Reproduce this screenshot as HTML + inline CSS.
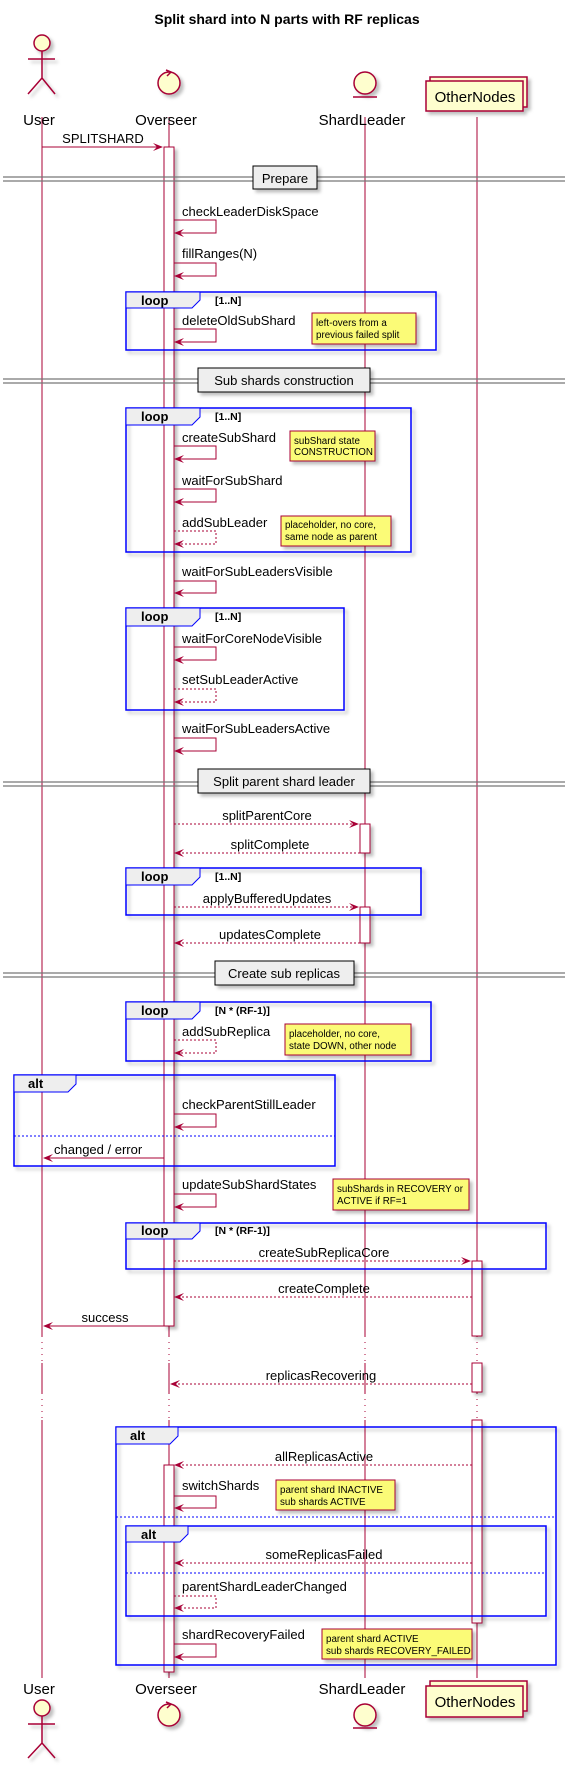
<!DOCTYPE html>
<html><head><meta charset="utf-8"><style>
html,body{margin:0;padding:0;background:#fff;}
svg{display:block;}
text{font-family:"Liberation Sans",sans-serif;}
.m{font-size:13px;fill:#000;}
.n{font-size:9.8px;fill:#000;}
.p{font-size:15px;fill:#000;}
.b{font-size:13px;font-weight:bold;}
.g{font-size:10.5px;font-weight:bold;}
</style></head><body>
<svg width="574" height="1769" viewBox="0 0 574 1769" xmlns="http://www.w3.org/2000/svg">
<defs>
<filter id="sh" x="-10%" y="-10%" width="130%" height="130%"><feDropShadow dx="3" dy="3" stdDeviation="1.5" flood-color="#000" flood-opacity="0.25"/></filter>
</defs>
<text x="287" y="24" text-anchor="middle" style="font-size:14px;font-weight:bold">Split shard into N parts with RF replicas</text>

<g stroke="#A80036" stroke-width="1" fill="none">
<path d="M42 117V1336M42 1363V1393M42 1420V1678M169 117V1336M169 1363V1393M169 1420V1678M365 117V1336M365 1363V1393M365 1420V1678M477 117V1336M477 1363V1393M477 1420V1678"/>
<path stroke-dasharray="1,5" d="M42 1336V1363M42 1393V1420M169 1336V1363M169 1393V1420M365 1336V1363M365 1393V1420M477 1336V1363M477 1393V1420"/>
</g>

<g stroke="#A80036" stroke-width="1.5" fill="#FEFECE" filter="url(#sh)">
<circle cx="42" cy="43" r="8"/>
<path d="M42 51V78M28 59H55M42 78L28 94M42 78L55 94" fill="none"/>
<circle cx="169" cy="83" r="11"/>
<circle cx="365" cy="83" r="11"/>
<rect x="430" y="77" width="97" height="30"/>
<rect x="426" y="81" width="97" height="30"/>
</g>
<path d="M166 70L171 72L167 76" stroke="#A80036" stroke-width="1.5" fill="none"/>
<path d="M353 97H377" stroke="#A80036" stroke-width="1.5"/>
<text class="p" x="39" y="125" text-anchor="middle">User</text>
<text class="p" x="166" y="125" text-anchor="middle">Overseer</text>
<text class="p" x="362" y="125" text-anchor="middle">ShardLeader</text>
<text class="p" x="475" y="102" text-anchor="middle">OtherNodes</text>

<g stroke="#A80036" stroke-width="1.5" fill="#FEFECE" filter="url(#sh)">
<circle cx="42" cy="1708" r="8"/>
<path d="M42 1716V1743M28 1724H55M42 1743L28 1758M42 1743L55 1758" fill="none"/>
<circle cx="169" cy="1715" r="11"/>
<circle cx="365" cy="1715" r="11"/>
<rect x="430" y="1681" width="97" height="30"/>
<rect x="426" y="1686" width="97" height="31"/>
</g>
<path d="M166 1702L171 1704L167 1708" stroke="#A80036" stroke-width="1.5" fill="none"/>
<path d="M353 1728H377" stroke="#A80036" stroke-width="1.5"/>
<text class="p" x="39" y="1694" text-anchor="middle">User</text>
<text class="p" x="166" y="1694" text-anchor="middle">Overseer</text>
<text class="p" x="362" y="1694" text-anchor="middle">ShardLeader</text>
<text class="p" x="475" y="1707" text-anchor="middle">OtherNodes</text>

<g stroke="#A80036" stroke-width="1" fill="#fff" filter="url(#sh)">
<rect x="164" y="147" width="10" height="1179"/>
<rect x="360" y="824" width="10" height="29"/>
<rect x="360" y="907" width="10" height="36"/>
<rect x="472" y="1261" width="10" height="75"/>
<rect x="472" y="1363" width="10" height="29"/>
<rect x="472" y="1420" width="10" height="203"/>
<rect x="164" y="1465" width="10" height="207"/>
</g>

<g>
<path d="M3 177H565M3 181H565M3 379H565M3 383H565M3 782H565M3 786H565M3 973H565M3 977H565" stroke="#777" stroke-width="1.2"/>
<g fill="#EEEEEE" stroke="#000" stroke-width="1" filter="url(#sh)">
<rect x="253" y="166" width="64" height="23"/>
<rect x="198" y="368" width="172" height="24"/>
<rect x="198" y="769" width="172" height="24"/>
<rect x="215" y="961" width="139" height="24"/>
</g>
<text class="m" x="285" y="183" text-anchor="middle">Prepare</text>
<text class="m" x="284" y="385" text-anchor="middle">Sub shards construction</text>
<text class="m" x="284" y="786" text-anchor="middle">Split parent shard leader</text>
<text class="m" x="284" y="978" text-anchor="middle">Create sub replicas</text>
</g>

<g fill="none" stroke="#0000FF" stroke-width="1.5">
<rect x="126" y="292" width="310" height="58" filter="url(#sh)"/>
<rect x="126" y="408" width="285" height="144" filter="url(#sh)"/>
<rect x="126" y="608" width="218" height="102" filter="url(#sh)"/>
<rect x="126" y="868" width="295" height="47" filter="url(#sh)"/>
<rect x="126" y="1002" width="305" height="59" filter="url(#sh)"/>
<rect x="14" y="1075" width="321" height="91" filter="url(#sh)"/>
<rect x="126" y="1223" width="420" height="46" filter="url(#sh)"/>
<rect x="116" y="1427" width="440" height="238" filter="url(#sh)"/>
<rect x="126" y="1526" width="420" height="90" filter="url(#sh)"/>
</g>
<g fill="#EEEEEE" stroke="#0000FF" stroke-width="1">
<path d="M126 292H200V300L192 308H126Z"/>
<path d="M126 408H200V417L192 425H126Z"/>
<path d="M126 608H200V618L192 626H126Z"/>
<path d="M126 868H200V877L192 885H126Z"/>
<path d="M126 1002H200V1011L192 1019H126Z"/>
<path d="M14 1075H76V1084L68 1092H14Z"/>
<path d="M126 1223H200V1231L192 1239H126Z"/>
<path d="M116 1427H178V1436L170 1444H116Z"/>
<path d="M126 1526H188V1534L180 1542H126Z"/>
</g>
<g fill="none" stroke="#0000FF" stroke-width="1" stroke-dasharray="2,2">
<path d="M14 1136H335M116 1517H556M126 1573H546"/>
</g>
<g class="b">
<text class="b" x="141" y="305">loop</text><text class="g" x="215" y="304">[1..N]</text>
<text class="b" x="141" y="421">loop</text><text class="g" x="215" y="420">[1..N]</text>
<text class="b" x="141" y="621">loop</text><text class="g" x="215" y="620">[1..N]</text>
<text class="b" x="141" y="881">loop</text><text class="g" x="215" y="880">[1..N]</text>
<text class="b" x="141" y="1015">loop</text><text class="g" x="215" y="1014">[N * (RF-1)]</text>
<text class="b" x="28" y="1088">alt</text>
<text class="b" x="141" y="1235">loop</text><text class="g" x="215" y="1234">[N * (RF-1)]</text>
<text class="b" x="130" y="1440">alt</text>
<text class="b" x="141" y="1539">alt</text>
</g>

<g fill="#FBFB77" stroke="#A80036" stroke-width="1" filter="url(#sh)">
<rect x="312" y="313" width="104" height="31"/>
<rect x="290" y="431" width="85" height="30"/>
<rect x="281" y="516" width="110" height="30"/>
<rect x="285" y="1024" width="126" height="31"/>
<rect x="333" y="1179" width="136" height="31"/>
<rect x="276" y="1480" width="119" height="30"/>
<rect x="322" y="1629" width="150" height="30"/>
</g>
<g class="n">
<text class="n" x="316" y="326">left-overs from a</text><text class="n" x="316" y="338">previous failed split</text>
<text class="n" x="294" y="444">subShard state</text><text class="n" x="294" y="455">CONSTRUCTION</text>
<text class="n" x="285" y="528">placeholder, no core,</text><text class="n" x="285" y="540">same node as parent</text>
<text class="n" x="289" y="1037">placeholder, no core,</text><text class="n" x="289" y="1049">state DOWN, other node</text>
<text class="n" x="337" y="1192">subShards in RECOVERY or</text><text class="n" x="337" y="1204">ACTIVE if RF=1</text>
<text class="n" x="280" y="1493">parent shard INACTIVE</text><text class="n" x="280" y="1505">sub shards ACTIVE</text>
<text class="n" x="326" y="1642">parent shard ACTIVE</text><text class="n" x="326" y="1654">sub shards RECOVERY_FAILED</text>
</g>

<g stroke="#A80036" stroke-width="1" fill="none">
<path d="M42 147H162"/>
<path d="M174 220H216V233H176"/>
<path d="M174 263H216V276H176"/>
<path d="M174 329H216V342H176"/>
<path d="M174 446H216V459H176"/>
<path d="M174 489H216V502H176"/>
<path d="M174 581H216V593H176"/>
<path d="M174 647H216V660H176"/>
<path d="M174 738H216V751H176"/>
<path d="M174 1114H216V1127H176"/>
<path d="M164 1158H44"/>
<path d="M174 1194H216V1207H176"/>
<path d="M164 1326H44"/>
<path d="M174 1496H216V1508H176"/>
<path d="M174 1644H216V1657H176"/>
</g>
<g stroke="#A80036" stroke-width="1" fill="none" stroke-dasharray="2,2">
<path d="M174 531H216V544H176"/>
<path d="M174 689H216V702H176"/>
<path d="M174 824H358"/>
<path d="M360 853H176"/>
<path d="M174 907H358"/>
<path d="M360 943H176"/>
<path d="M174 1040H216V1053H176"/>
<path d="M174 1261H470"/>
<path d="M472 1297H176"/>
<path d="M472 1384H171"/>
<path d="M472 1465H176"/>
<path d="M472 1563H176"/>
<path d="M174 1596H216V1608H176"/>
</g>
<g fill="#A80036">
<polygon points="163,147 153,143 157,147 153,151"/>
<polygon points="174,233 184,229 180,233 184,237"/>
<polygon points="174,276 184,272 180,276 184,280"/>
<polygon points="174,342 184,338 180,342 184,346"/>
<polygon points="174,459 184,455 180,459 184,463"/>
<polygon points="174,502 184,498 180,502 184,506"/>
<polygon points="174,544 184,540 180,544 184,548"/>
<polygon points="174,593 184,589 180,593 184,597"/>
<polygon points="174,660 184,656 180,660 184,664"/>
<polygon points="174,702 184,698 180,702 184,706"/>
<polygon points="174,751 184,747 180,751 184,755"/>
<polygon points="359,824 349,820 353,824 349,828"/>
<polygon points="174,853 184,849 180,853 184,857"/>
<polygon points="359,907 349,903 353,907 349,911"/>
<polygon points="174,943 184,939 180,943 184,947"/>
<polygon points="174,1053 184,1049 180,1053 184,1057"/>
<polygon points="174,1127 184,1123 180,1127 184,1131"/>
<polygon points="43,1158 53,1154 49,1158 53,1162"/>
<polygon points="174,1207 184,1203 180,1207 184,1211"/>
<polygon points="471,1261 461,1257 465,1261 461,1265"/>
<polygon points="174,1297 184,1293 180,1297 184,1301"/>
<polygon points="43,1326 53,1322 49,1326 53,1330"/>
<polygon points="170,1384 180,1380 176,1384 180,1388"/>
<polygon points="174,1465 184,1461 180,1465 184,1469"/>
<polygon points="174,1508 184,1504 180,1508 184,1512"/>
<polygon points="174,1563 184,1559 180,1563 184,1567"/>
<polygon points="174,1608 184,1604 180,1608 184,1612"/>
<polygon points="174,1657 184,1653 180,1657 184,1661"/>
</g>
<g class="m">
<text class="m" x="103" y="143" text-anchor="middle">SPLITSHARD</text>
<text class="m" x="182" y="216">checkLeaderDiskSpace</text>
<text class="m" x="182" y="258">fillRanges(N)</text>
<text class="m" x="182" y="325">deleteOldSubShard</text>
<text class="m" x="182" y="442">createSubShard</text>
<text class="m" x="182" y="485">waitForSubShard</text>
<text class="m" x="182" y="527">addSubLeader</text>
<text class="m" x="182" y="576">waitForSubLeadersVisible</text>
<text class="m" x="182" y="643">waitForCoreNodeVisible</text>
<text class="m" x="182" y="684">setSubLeaderActive</text>
<text class="m" x="182" y="733">waitForSubLeadersActive</text>
<text class="m" x="267" y="820" text-anchor="middle">splitParentCore</text>
<text class="m" x="270" y="849" text-anchor="middle">splitComplete</text>
<text class="m" x="267" y="903" text-anchor="middle">applyBufferedUpdates</text>
<text class="m" x="270" y="939" text-anchor="middle">updatesComplete</text>
<text class="m" x="182" y="1036">addSubReplica</text>
<text class="m" x="182" y="1109">checkParentStillLeader</text>
<text class="m" x="54" y="1154">changed / error</text>
<text class="m" x="182" y="1189">updateSubShardStates</text>
<text class="m" x="324" y="1257" text-anchor="middle">createSubReplicaCore</text>
<text class="m" x="324" y="1293" text-anchor="middle">createComplete</text>
<text class="m" x="105" y="1322" text-anchor="middle">success</text>
<text class="m" x="321" y="1380" text-anchor="middle">replicasRecovering</text>
<text class="m" x="324" y="1461" text-anchor="middle">allReplicasActive</text>
<text class="m" x="182" y="1490">switchShards</text>
<text class="m" x="324" y="1559" text-anchor="middle">someReplicasFailed</text>
<text class="m" x="182" y="1591">parentShardLeaderChanged</text>
<text class="m" x="182" y="1639">shardRecoveryFailed</text>
</g>
</svg>
</body></html>
